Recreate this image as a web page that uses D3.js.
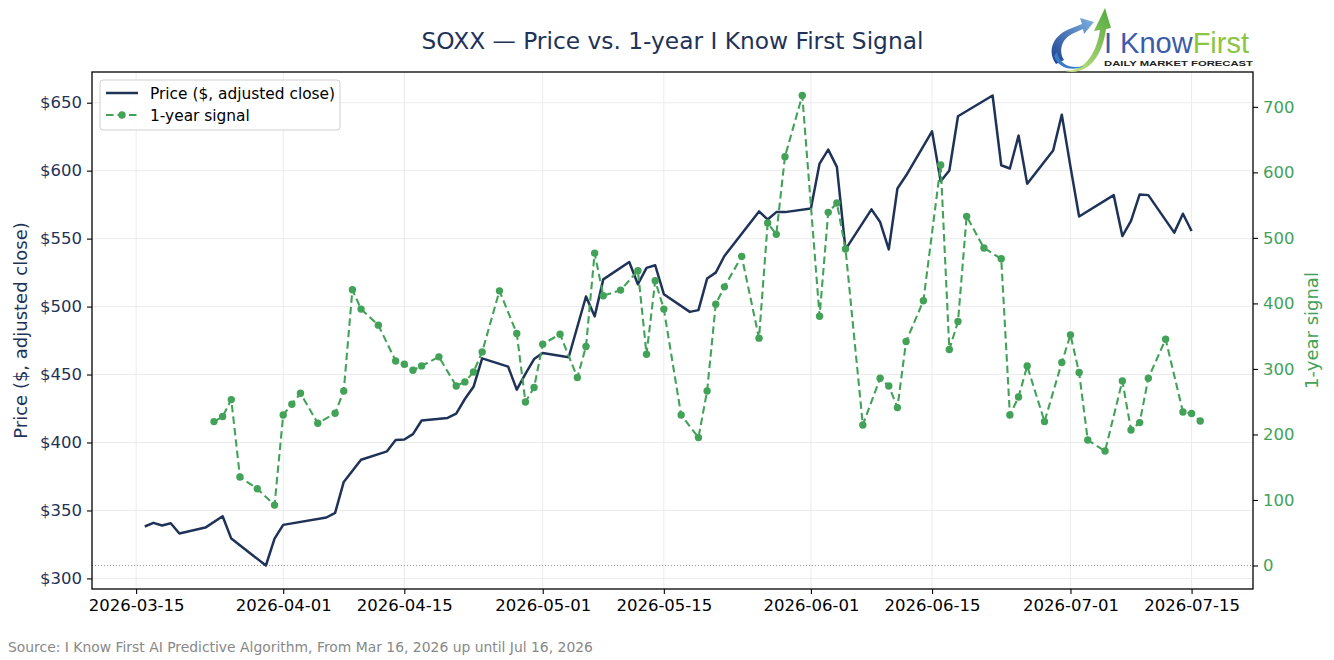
<!DOCTYPE html>
<html>
<head>
<meta charset="utf-8">
<script src="https://cdn.jsdelivr.net/npm/d3@7"></script>
<style>
  body { margin: 0; background: #fff; }
  svg { display: block; font-family: "DejaVu Sans", sans-serif; }
</style>
</head>
<body>
<svg id="chart" width="1334" height="660"></svg>
<script>
// price series (adjusted close)
var priceDates = ["2026-03-16","2026-03-17","2026-03-18","2026-03-19","2026-03-20","2026-03-23","2026-03-25","2026-03-26","2026-03-30","2026-03-31",
  "2026-04-01","2026-04-06","2026-04-07","2026-04-08","2026-04-10","2026-04-13","2026-04-14","2026-04-15","2026-04-16","2026-04-17",
  "2026-04-20","2026-04-21","2026-04-22","2026-04-23","2026-04-24","2026-04-27","2026-04-28","2026-04-29","2026-04-30","2026-05-01",
  "2026-05-04","2026-05-06","2026-05-07","2026-05-08","2026-05-11","2026-05-12","2026-05-13","2026-05-14","2026-05-15","2026-05-18",
  "2026-05-19","2026-05-20","2026-05-21","2026-05-22","2026-05-26","2026-05-27","2026-05-28","2026-05-29","2026-06-01","2026-06-02",
  "2026-06-03","2026-06-04","2026-06-05","2026-06-08","2026-06-09","2026-06-10","2026-06-11","2026-06-12","2026-06-15","2026-06-16",
  "2026-06-17","2026-06-18","2026-06-22","2026-06-23","2026-06-24","2026-06-25","2026-06-26","2026-06-29","2026-06-30","2026-07-01",
  "2026-07-02","2026-07-06","2026-07-07","2026-07-08","2026-07-09","2026-07-10","2026-07-13","2026-07-14","2026-07-15"];
var priceValues = [338.2,340.9,338.9,340.6,333.0,337.4,345.7,329.3,309.5,329.3,
  339.4,344.8,348.2,371.0,387.3,393.5,401.8,402.2,406.2,416.2,
  418.1,421.3,432.0,441.0,461.9,455.8,438.9,450.5,461.4,465.8,
  462.7,507.4,492.8,520.0,532.8,516.4,528.5,530.4,509.1,496.1,
  497.4,520.6,525.0,537.2,570.0,564.1,569.5,569.5,572.2,605.2,
  615.5,602.8,542.1,571.5,562.2,542.1,586.9,596.4,628.9,592.2,
  600.1,640.0,655.3,604.0,601.6,625.8,590.3,614.8,641.2,603.0,
  566.3,582.0,551.9,563.0,582.5,582.0,554.4,568.3,555.6];

// 1-year signal series
var signalDates = ["2026-03-24","2026-03-25","2026-03-26","2026-03-27","2026-03-29","2026-03-31","2026-04-01","2026-04-02","2026-04-03","2026-04-05",
  "2026-04-07","2026-04-08","2026-04-09","2026-04-10","2026-04-12","2026-04-14","2026-04-15","2026-04-16","2026-04-17","2026-04-19",
  "2026-04-21","2026-04-22","2026-04-23","2026-04-24","2026-04-26","2026-04-28","2026-04-29","2026-04-30","2026-05-01","2026-05-03",
  "2026-05-05","2026-05-06","2026-05-07","2026-05-08","2026-05-10","2026-05-12","2026-05-13","2026-05-14","2026-05-15","2026-05-17",
  "2026-05-19","2026-05-20","2026-05-21","2026-05-22","2026-05-24","2026-05-26","2026-05-27","2026-05-28","2026-05-29","2026-05-31",
  "2026-06-02","2026-06-03","2026-06-04","2026-06-05","2026-06-07","2026-06-09","2026-06-10","2026-06-11","2026-06-12","2026-06-14",
  "2026-06-16","2026-06-17","2026-06-18","2026-06-19","2026-06-21","2026-06-23","2026-06-24","2026-06-25","2026-06-26","2026-06-28",
  "2026-06-30","2026-07-01","2026-07-02","2026-07-03","2026-07-05","2026-07-07","2026-07-08","2026-07-09","2026-07-10","2026-07-12",
  "2026-07-14","2026-07-15","2026-07-16"];
var signalValues = [219.6,227.3,253.2,135.0,117.2,92.2,229.7,246.1,262.9,217.0,
  232.3,266.4,420.8,391.3,366.8,312.2,307.2,298.0,304.6,318.4,
  274.0,280.2,295.4,326.0,419.2,354.1,249.6,271.6,337.8,353.0,
  286.9,334.2,476.8,411.6,420.3,449.8,322.5,434.5,391.3,229.7,
  195.2,266.4,398.9,425.3,471.8,347.0,522.7,505.4,624.0,717.3,
  380.5,539.0,553.3,483.0,214.4,285.8,274.0,241.0,341.9,404.0,
  611.3,329.6,372.4,532.9,484.5,468.1,229.7,257.2,304.6,219.6,
  309.8,352.0,294.5,191.5,174.7,281.7,206.8,218.1,285.8,345.4,
  234.3,231.9,220.6];

// tick labels
var xTicks = ["2026-03-15","2026-04-01","2026-04-15","2026-05-01","2026-05-15","2026-06-01","2026-06-15","2026-07-01","2026-07-15"];
var priceTicks = [300,350,400,450,500,550,600,650];
var signalTicks = [0,100,200,300,400,500,600,700];

var navy = "#1f3358";
var green = "#42a258";

var parse = d3.timeParse("%Y-%m-%d");
var price = priceDates.map(function(d,i) { return {date: parse(d), value: priceValues[i]}; });
var signal = signalDates.map(function(d,i) { return {date: parse(d), value: signalValues[i]}; });

var margin = {left: 92, right: 81, top: 72, bottom: 71};
var W = 1334, H = 660;
var w = W - margin.left - margin.right, h = H - margin.top - margin.bottom;

var svg = d3.select("#chart");

// padded domains, 5% on each side like the original
function pad(ext) { var p = (ext[1]-ext[0])*0.05; return [ext[0]-p, ext[1]+p]; }
var allDates = price.concat(signal).map(function(d) { return +d.date; });
var xExt = pad(d3.extent(allDates));
var x = d3.scaleTime().domain([new Date(xExt[0]), new Date(xExt[1])]).range([0, w]);
var yL = d3.scaleLinear().domain(pad(d3.extent(priceValues))).range([h, 0]);
var yR = d3.scaleLinear().domain(pad([0, d3.max(signalValues)])).range([h, 0]);

var g = svg.append("g").attr("transform", "translate(" + margin.left + "," + margin.top + ")");

// grid
g.append("g").selectAll("line")
  .data(xTicks.map(parse))
  .enter().append("line")
  .attr("x1", function(d) { return x(d); }).attr("x2", function(d) { return x(d); })
  .attr("y1", 0).attr("y2", h)
  .attr("stroke", "#ececec").attr("stroke-width", 1);
g.append("g").selectAll("line")
  .data(priceTicks)
  .enter().append("line")
  .attr("x1", 0).attr("x2", w)
  .attr("y1", function(d) { return yL(d); }).attr("y2", function(d) { return yL(d); })
  .attr("stroke", "#ececec").attr("stroke-width", 1);

// zero line of the signal axis
g.append("line")
  .attr("x1", 0).attr("x2", w)
  .attr("y1", yR(0)).attr("y2", yR(0))
  .attr("stroke", "#888").attr("stroke-width", 0.9)
  .attr("stroke-dasharray", "1,2");

// price line
var priceLine = d3.line().x(function(d) { return x(d.date); }).y(function(d) { return yL(d.value); });
g.append("path")
  .datum(price)
  .attr("d", priceLine)
  .attr("fill", "none")
  .attr("stroke", navy)
  .attr("stroke-width", 2.5)
  .attr("stroke-linejoin", "round");

// signal line + dots
var signalLine = d3.line().x(function(d) { return x(d.date); }).y(function(d) { return yR(d.value); });
g.append("path")
  .datum(signal)
  .attr("d", signalLine)
  .attr("fill", "none")
  .attr("stroke", green)
  .attr("stroke-width", 2.1)
  .attr("stroke-dasharray", "7.5,4");
g.append("g").selectAll("circle")
  .data(signal)
  .enter().append("circle")
  .attr("cx", function(d) { return x(d.date); })
  .attr("cy", function(d) { return yR(d.value); })
  .attr("r", 3.7)
  .attr("fill", green);

// axes
var xAxis = d3.axisBottom(x).tickValues(xTicks.map(parse)).tickFormat(d3.timeFormat("%Y-%m-%d")).tickSize(5).tickPadding(5);
var lAxis = d3.axisLeft(yL).tickValues(priceTicks).tickFormat(function(d) { return "$" + d; }).tickSize(5).tickPadding(5);
var rAxis = d3.axisRight(yR).tickValues(signalTicks).tickFormat(d3.format("d")).tickSize(5).tickPadding(5);

var gx = g.append("g").attr("transform", "translate(0," + h + ")").call(xAxis);
var gl = g.append("g").call(lAxis);
var gr = g.append("g").attr("transform", "translate(" + w + ",0)").call(rAxis);

[gx, gl, gr].forEach(function(a) {
  a.select(".domain").remove();
  a.selectAll(".tick line").attr("stroke", "#000").attr("stroke-width", 1.1);
  a.selectAll(".tick text").attr("font-size", "16.5px").attr("font-family", "DejaVu Sans");
});
gx.selectAll(".tick text").attr("fill", "#000");
gl.selectAll(".tick text").attr("fill", navy);
gr.selectAll(".tick text").attr("fill", green);

// frame
g.append("rect")
  .attr("x", 0).attr("y", 0).attr("width", w).attr("height", h)
  .attr("fill", "none").attr("stroke", "#000").attr("stroke-width", 1.3);

// axis labels
svg.append("text")
  .attr("transform", "translate(27," + (margin.top + h/2) + ") rotate(-90)")
  .attr("text-anchor", "middle")
  .attr("font-size", "18px")
  .attr("fill", navy)
  .text("Price ($, adjusted close)");
svg.append("text")
  .attr("transform", "translate(1318," + (margin.top + h/2) + ") rotate(-90)")
  .attr("text-anchor", "middle")
  .attr("font-size", "18px")
  .attr("fill", green)
  .text("1-year signal");

// title
svg.append("text")
  .attr("x", margin.left + w/2).attr("y", 49)
  .attr("text-anchor", "middle")
  .attr("font-size", "23.3px")
  .attr("fill", navy)
  .text("SOXX \u2014 Price vs. 1-year I Know First Signal");

// legend
var legend = g.append("g").attr("transform", "translate(8,8)");
legend.append("rect")
  .attr("width", 240).attr("height", 50).attr("rx", 3)
  .attr("fill", "#fff").attr("fill-opacity", 0.85)
  .attr("stroke", "#cfcfcf").attr("stroke-width", 1);
legend.append("line")
  .attr("x1", 6).attr("x2", 38).attr("y1", 13).attr("y2", 13)
  .attr("stroke", navy).attr("stroke-width", 2.5);
legend.append("line")
  .attr("x1", 6).attr("x2", 38).attr("y1", 35).attr("y2", 35)
  .attr("stroke", green).attr("stroke-width", 2.1).attr("stroke-dasharray", "7.5,4");
legend.append("circle").attr("cx", 22).attr("cy", 35).attr("r", 3.7).attr("fill", green);
legend.selectAll(".lbl")
  .data(["Price ($, adjusted close)", "1-year signal"])
  .enter().append("text")
  .attr("class", "lbl")
  .attr("x", 50)
  .attr("y", function(d,i) { return 18.5 + i*22; })
  .attr("font-size", "15.4px")
  .attr("fill", "#000")
  .text(function(d) { return d; });

// source note
svg.append("text")
  .attr("x", 8).attr("y", 652)
  .attr("font-size", "13.9px")
  .attr("fill", "#888")
  .text("Source: I Know First AI Predictive Algorithm, From Mar 16, 2026 up until Jul 16, 2026");

// logo
var defs = svg.append("defs");
var gb = defs.append("linearGradient").attr("id", "blueSwirl").attr("x1", 0).attr("y1", 1).attr("x2", 1).attr("y2", 0);
gb.append("stop").attr("offset", "0%").attr("stop-color", "#1d3f8f");
gb.append("stop").attr("offset", "100%").attr("stop-color", "#7fb3e3");
var gg = defs.append("linearGradient").attr("id", "greenSwirl").attr("x1", 0).attr("y1", 1).attr("x2", 1).attr("y2", 0);
gg.append("stop").attr("offset", "0%").attr("stop-color", "#d3e88a");
gg.append("stop").attr("offset", "100%").attr("stop-color", "#4fa83d");

var logo = svg.append("g").attr("transform", "translate(1048,6)");
// blue crescent with arrow
logo.append("path")
  .attr("d", "M8,58 C-2,44 6,28 24,22 L34,18 L32,12 L46,16 L36,28 L35,23 L26,27 C14,32 10,44 16,54 Z")
  .attr("fill", "url(#blueSwirl)");
// green swoosh with arrow
logo.append("path")
  .attr("d", "M14,64 C32,68 48,52 52,24 L46,25 L57,2 L63,22 L58,23 C54,54 36,72 14,64 Z")
  .attr("fill", "url(#greenSwirl)");
logo.append("path")
  .attr("d", "M6,50 C10,62 24,66 36,60 C24,63 12,60 9,46 Z")
  .attr("fill", "#3a7bc8");

var brand = logo.append("text")
  .attr("x", 56).attr("y", 47)
  .attr("font-family", "Liberation Sans Narrow, Liberation Sans, sans-serif")
  .attr("font-size", "30px")
  .attr("textLength", 145)
  .attr("lengthAdjust", "spacingAndGlyphs");
brand.append("tspan").attr("fill", "#3b5bab").text("I Know");
brand.append("tspan").attr("fill", "#8cc540").text("First");
logo.append("text")
  .attr("x", 56).attr("y", 60)
  .attr("font-family", "Liberation Sans, sans-serif")
  .attr("font-size", "8px")
  .attr("font-weight", "bold")
  .attr("fill", "#222")
  .attr("textLength", 149)
  .attr("lengthAdjust", "spacingAndGlyphs")
  .text("DAILY MARKET FORECAST");
</script>
</body>
</html>
